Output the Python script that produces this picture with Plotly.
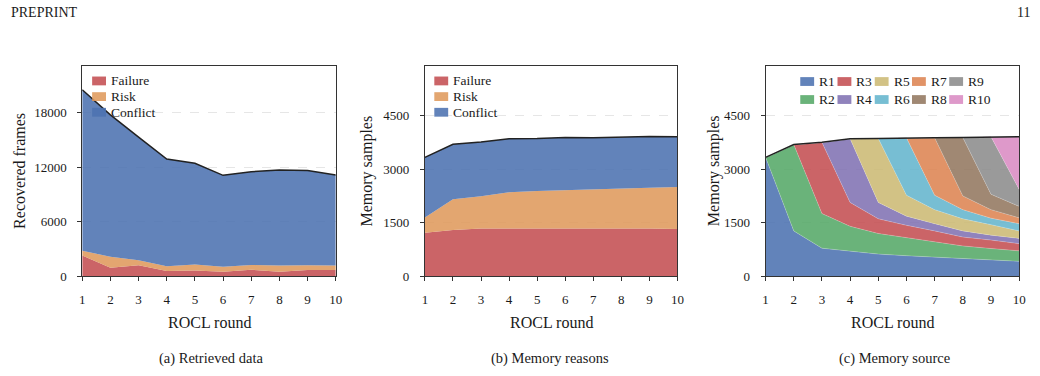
import numpy as np
import plotly.graph_objects as go

W, H = 1040, 376

rounds = list(range(1, 11))

# (a) Retrieved data
a_failure = [2270, 900, 1190, 540, 610, 470, 690, 470, 650, 650]
a_risk = [505, 1226, 540, 541, 651, 539, 535, 683, 539, 503]
a_conflict = [17765, 15640, 13585, 11819, 11171, 10090, 10270, 10523, 10451, 9982]

# (b) Memory reasons
b_failure = [1212, 1295, 1332, 1332, 1332, 1350, 1332, 1332, 1332, 1322]
b_risk = [432, 864, 909, 1019, 1056, 1066, 1093, 1130, 1148, 1176]
b_conflict = [1690, 1543, 1525, 1507, 1479, 1479, 1460, 1442, 1442, 1415]

# (c) Memory source
R1 = [3334, 1268, 781, 707, 615, 570, 533, 487, 441, 413]
R2 = [0, 2425, 973, 689, 579, 505, 431, 358, 331, 294]
R3 = [0, 0, 2003, 671, 413, 349, 304, 248, 238, 202]
R4 = [0, 0, 0, 1791, 460, 257, 202, 175, 138, 147]
R5 = [0, 0, 0, 0, 1800, 588, 395, 339, 294, 212]
R6 = [0, 0, 0, 0, 0, 1616, 404, 258, 184, 202]
R7 = [0, 0, 0, 0, 0, 0, 1616, 386, 239, 165]
R8 = [0, 0, 0, 0, 0, 0, 0, 1643, 431, 322]
R9 = [0, 0, 0, 0, 0, 0, 0, 0, 1617, 477]
R10 = [0, 0, 0, 0, 0, 0, 0, 0, 0, 1479]
source_names = ["R1", "R2", "R3", "R4", "R5", "R6", "R7", "R8", "R9", "R10"]
source_values = [R1, R2, R3, R4, R5, R6, R7, R8, R9, R10]

reason_names = ["Failure", "Risk", "Conflict"]

a_ticks = [0, 6000, 12000, 18000]
b_ticks = [0, 1500, 3000, 4500]
c_ticks = [0, 1500, 3000, 4500]

# ---------------- styling ----------------
FONT = "Times New Roman, Liberation Serif, serif"
TXT = "#1a1a1a"
reason_colors = ["#C44E52", "#DF9A5C", "#4C72B0"]
source_colors = ["#4C72B0", "#55A868", "#C44E52", "#8172B3", "#CCB974",
                 "#64B5CD", "#DD8452", "#937860", "#8C8C8C", "#DA8BC3"]
ALPHA = 0.88


def rgba(h, a=ALPHA):
    h = h.lstrip("#")
    r, g, b = int(h[0:2], 16), int(h[2:4], 16), int(h[4:6], 16)
    return f"rgba({r},{g},{b},{a})"


def px(x):
    return x / W


def py(y):
    return 1 - y / H


panels = [
    dict(x0=80, x1=336, ymax=23150, ticks=a_ticks, ytitle="Recovered frames",
         ytx=16, caption="(a) Retrieved data", capx=210),
    dict(x0=426, x1=681, ymax=5900, ticks=b_ticks, ytitle="Memory samples",
         ytx=368, caption="(b) Memory reasons", capx=552),
    dict(x0=770, x1=1026, ymax=5900, ticks=c_ticks, ytitle="Memory samples",
         ytx=718, caption="(c) Memory source", capx=900),
]
TOP, BOT = 67.5, 282

fig = go.Figure()


def add_stack(values, names, colors, k, group, seam=False):
    xa = "x" if k == 1 else f"x{k}"
    ya = "y" if k == 1 else f"y{k}"
    for v, n, c in zip(values, names, colors):
        fig.add_trace(go.Scatter(
            x=rounds, y=v, name=n, mode="lines", stackgroup=group,
            line=dict(width=0.6 if seam else 0, color="rgba(255,255,255,0.35)"),
            fillcolor=rgba(c), xaxis=xa, yaxis=ya, showlegend=False,
            hoverinfo="skip"))
    total = np.sum(np.array(values), axis=0)
    fig.add_trace(go.Scatter(
        x=rounds, y=total, mode="lines", line=dict(color="#222222", width=1.5),
        xaxis=xa, yaxis=ya, showlegend=False, hoverinfo="skip"))


add_stack([a_failure, a_risk, a_conflict], reason_names, reason_colors, 1, "a")
add_stack([b_failure, b_risk, b_conflict], reason_names, reason_colors, 2, "b")
add_stack(source_values, source_names, source_colors, 3, "c", seam=True)

layout = dict(
    width=W, height=H, margin=dict(l=0, r=0, t=0, b=0),
    paper_bgcolor="white", plot_bgcolor="white",
    font=dict(family=FONT, color=TXT, size=12), showlegend=False,
)
annotations = []
shapes = []
for i, p in enumerate(panels, start=1):
    sfx = "" if i == 1 else str(i)
    layout["xaxis" + sfx] = dict(
        domain=[px(p["x0"]), px(p["x1"])], range=[1, 10], tickvals=rounds,
        ticktext=[str(r) for r in rounds], ticklabelstandoff=7,
        anchor="y" + sfx, showline=True, mirror=True, linecolor="#333333",
        linewidth=1, ticks="outside", ticklen=4, tickcolor="#333333",
        showgrid=False, zeroline=False,
        tickfont=dict(family=FONT, size=13, color=TXT))
    layout["yaxis" + sfx] = dict(
        domain=[py(BOT), py(TOP)], range=[0, p["ymax"]], tickvals=p["ticks"],
        ticktext=[str(t) for t in p["ticks"]], ticklabelstandoff=8,
        anchor="x" + sfx, showline=True, mirror=True, linecolor="#333333",
        linewidth=1, ticks="outside", ticklen=4, tickcolor="#333333",
        showgrid=True, gridcolor="#e6e6e6", gridwidth=0.8, griddash="dash",
        zeroline=False, tickfont=dict(family=FONT, size=13, color=TXT))
    annotations.append(dict(
        text=p["ytitle"], x=px(p["ytx"]), y=py((TOP + BOT) / 2), xref="paper",
        yref="paper", textangle=-90, showarrow=False, xanchor="center",
        yanchor="middle", font=dict(family=FONT, size=16, color=TXT)))
    annotations.append(dict(
        text="ROCL round", x=px((p["x0"] + p["x1"]) / 2), y=py(329),
        xref="paper", yref="paper", showarrow=False, xanchor="center",
        yanchor="middle", font=dict(family=FONT, size=16, color=TXT)))
    annotations.append(dict(
        text=p["caption"], x=px(p["capx"]), y=py(366), xref="paper",
        yref="paper", showarrow=False, xanchor="center", yanchor="middle",
        font=dict(family=FONT, size=14.5, color=TXT)))


def legend_item(name, color, x, y):
    # patch 14x9 px, text to the right
    shapes.append(dict(type="rect", xref="paper", yref="paper",
                       x0=px(x), x1=px(x + 14), y0=py(y + 4.5), y1=py(y - 4.5),
                       fillcolor=rgba(color), line=dict(width=0)))
    annotations.append(dict(text=name, x=px(x + 17), y=py(y), xref="paper",
                            yref="paper", showarrow=False, xanchor="left",
                            yanchor="middle",
                            font=dict(family=FONT, size=13.5, color=TXT)))


# legends for (a) and (b): vertical
for lx in (90, 435.5):
    for j, (n, c) in enumerate(zip(reason_names, reason_colors)):
        legend_item(n, c, lx, 82.7 + 16 * j)

# legend for (c): 5 columns, filled column by column
for j, (n, c) in enumerate(zip(source_names, source_colors)):
    col, row = j // 2, j % 2
    legend_item(n, c, 805 + 37.6 * col, 83.3 + 18.4 * row)

# page header
annotations.append(dict(text="PREPRINT", x=px(6), y=py(13), xref="paper",
                        yref="paper", showarrow=False, xanchor="left",
                        yanchor="middle", font=dict(family=FONT, size=14, color=TXT)))
annotations.append(dict(text="11", x=px(1022), y=py(13), xref="paper",
                        yref="paper", showarrow=False, xanchor="left",
                        yanchor="middle", font=dict(family=FONT, size=14, color=TXT)))

layout["annotations"] = annotations
layout["shapes"] = shapes
fig.update_layout(**layout)
fig.write_html("out.html")
